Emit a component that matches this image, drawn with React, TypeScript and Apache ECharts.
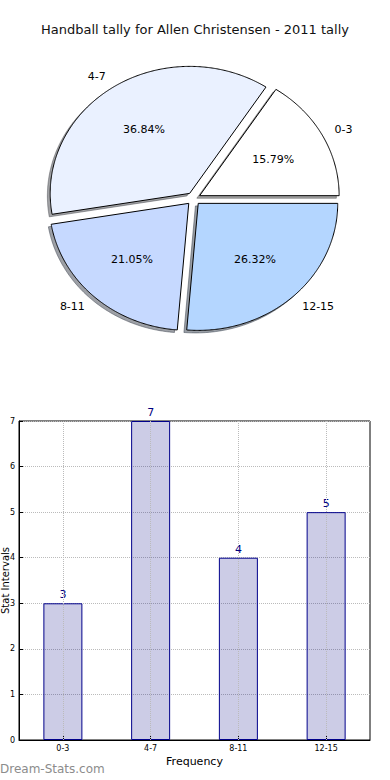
import React, { useEffect, useRef } from "react";
import * as echarts from "echarts";

const TITLE = "Handball tally for Allen Christensen - 2011 tally";
const categories = ["0-3", "4-7", "8-11", "12-15"];
const tally = [3, 7, 4, 5];
const sliceColors = ["#ffffff", "#eaf1ff", "#c6d9ff", "#b4d6ff"];
const yTicks = [0, 1, 2, 3, 4, 5, 6, 7];

const FONT = "DejaVu Sans";

// pie geometry (matplotlib-like, non-equal aspect → ellipse)
const PIE_CX = 193.5;
const PIE_CY = 198.7;
const PIE_RX = 139.5;
const PIE_RY = 127;
const EXPLODE = 0.05;
const LABEL_DIST = 1.1;
const PCT_DIST = 0.6;
const SHADOW_DX = -0.02;
const SHADOW_DY = -0.02;

function shadowColor(hex: string) {
  const r = parseInt(hex.slice(1, 3), 16);
  const g = parseInt(hex.slice(3, 5), 16);
  const b = parseInt(hex.slice(5, 7), 16);
  return `rgba(${Math.round(r * 0.3)},${Math.round(g * 0.3)},${Math.round(b * 0.3)},0.5)`;
}

function sliceGeom(i: number) {
  const total = tally.reduce((a, b) => a + b, 0);
  let before = 0;
  for (let k = 0; k < i; k++) before += tally[k];
  const a0 = (before / total) * Math.PI * 2;
  const a1 = ((before + tally[i]) / total) * Math.PI * 2;
  const mid = (a0 + a1) / 2;
  const ex = PIE_CX + EXPLODE * PIE_RX * Math.cos(mid);
  const ey = PIE_CY - EXPLODE * PIE_RY * Math.sin(mid);
  return { a0, a1, mid, ex, ey, total };
}

function slicePoints(ex: number, ey: number, a0: number, a1: number) {
  const n = Math.max(8, Math.ceil(((a1 - a0) * 180) / Math.PI / 0.5));
  const pts: number[][] = [[ex, ey]];
  for (let k = 0; k <= n; k++) {
    const t = a0 + ((a1 - a0) * k) / n;
    pts.push([ex + PIE_RX * Math.cos(t), ey - PIE_RY * Math.sin(t)]);
  }
  return pts;
}

export default function App() {
  const ref = useRef<HTMLDivElement>(null);
  useEffect(() => {
    if (!ref.current) return;
    const chart = echarts.init(ref.current, undefined, { renderer: "svg" });

    const pieData = categories.map((c, i) => ({ name: c, value: tally[i] }));

    chart.setOption({
      animation: false,
      backgroundColor: "#ffffff",
      textStyle: { fontFamily: FONT },
      title: {
        text: TITLE,
        left: "center",
        top: 18,
        textStyle: { fontFamily: FONT, fontSize: 13, fontWeight: "normal", color: "#111" },
      },
      grid: {
        left: 19,
        right: 20,
        top: 421,
        height: 319,
        show: true,
        borderColor: "#000",
        borderWidth: 1,
        backgroundColor: "transparent",
        outerBoundsMode: "none",
        containLabel: false,
      },
      xAxis: {
        type: "category",
        data: categories,
        name: "Frequency",
        nameLocation: "middle",
        nameGap: 16,
        nameMoveOverlap: false,
        nameTextStyle: { fontFamily: FONT, fontSize: 11, color: "#000" },
        axisLine: { show: true, lineStyle: { color: "#000" } },
        axisTick: { show: true, inside: true, alignWithLabel: true, length: 4, lineStyle: { color: "#000" } },
        axisLabel: { fontFamily: FONT, fontSize: 8, color: "#000", margin: 4 },
        splitLine: { show: false },
      },
      yAxis: {
        type: "value",
        min: 0,
        max: 7,
        interval: 1,
        name: "Stat Intervals",
        nameLocation: "middle",
        nameGap: 9,
        nameMoveOverlap: false,
        nameTextStyle: { fontFamily: FONT, fontSize: 10, color: "#000" },
        axisLine: { show: true, lineStyle: { color: "#000" } },
        axisTick: { show: true, inside: true, length: 4, lineStyle: { color: "#000" } },
        axisLabel: {
          fontFamily: FONT,
          fontSize: 8,
          color: "#000",
          margin: 4,
          formatter: (v: number) => (yTicks.includes(v) ? String(v) : ""),
        },
        splitLine: { show: true, lineStyle: { type: "dotted", color: "#bbbbbb", width: 1 } },
      },
      series: [
        {
          type: "custom",
          name: "pie-shadow",
          coordinateSystem: "none",
          silent: true,
          z: 1,
          data: pieData,
          renderItem: (params: any) => {
            const i = params.dataIndex;
            const g = sliceGeom(i);
            const sx = g.ex + SHADOW_DX * PIE_RX;
            const sy = g.ey - SHADOW_DY * PIE_RY;
            const c = shadowColor(sliceColors[i]);
            return {
              type: "polygon",
              shape: { points: slicePoints(sx, sy, g.a0, g.a1) },
              style: { fill: c, stroke: c, lineWidth: 1 },
            };
          },
        },
        {
          type: "custom",
          name: "pie",
          coordinateSystem: "none",
          silent: true,
          z: 2,
          data: pieData,
          renderItem: (params: any) => {
            const i = params.dataIndex;
            const g = sliceGeom(i);
            const cosm = Math.cos(g.mid);
            const sinm = Math.sin(g.mid);
            const lx = g.ex + LABEL_DIST * PIE_RX * cosm;
            const ly = g.ey - LABEL_DIST * PIE_RY * sinm;
            const px = g.ex + PCT_DIST * PIE_RX * cosm;
            const py = g.ey - PCT_DIST * PIE_RY * sinm;
            const pct = ((tally[i] / g.total) * 100).toFixed(2) + "%";
            return {
              type: "group",
              children: [
                {
                  type: "polygon",
                  shape: { points: slicePoints(g.ex, g.ey, g.a0, g.a1) },
                  style: { fill: sliceColors[i], stroke: "#000", lineWidth: 1 },
                },
                {
                  type: "text",
                  style: {
                    text: pct,
                    x: px,
                    y: py,
                    align: "center",
                    verticalAlign: "middle",
                    fill: "#000",
                    fontFamily: FONT,
                    fontSize: 11,
                  },
                },
                {
                  type: "text",
                  style: {
                    text: categories[i],
                    x: lx,
                    y: ly,
                    align: lx > PIE_CX ? "left" : "right",
                    verticalAlign: "middle",
                    fill: "#000",
                    fontFamily: FONT,
                    fontSize: 11,
                  },
                },
              ],
            };
          },
        },
        {
          type: "bar",
          data: tally,
          barWidth: 39,
          silent: true,
          itemStyle: {
            color: "rgba(0,0,128,0.2)",
            borderColor: "#00008b",
            borderWidth: 1,
          },
          label: {
            show: true,
            position: "top",
            distance: 3,
            fontFamily: FONT,
            fontSize: 11,
            color: "#000080",
          },
          markLine: {
            silent: true,
            symbol: "none",
            label: { show: false },
            lineStyle: { type: "dotted", color: "#bbbbbb", width: 1 },
            data: categories.map((c) => ({ xAxis: c })),
          },
        },
      ],
      graphic: [
        {
          type: "text",
          left: 0,
          top: 763,
          style: {
            text: "Dream-Stats.com",
            fontFamily: FONT,
            fontSize: 12,
            fontWeight: "normal",
            fill: "#8c8c8c",
          },
        },
      ],
    });
    return () => chart.dispose();
  }, []);

  return (
    <div
      ref={ref}
      style={{ position: "fixed", left: 0, top: 0, width: 390, height: 780, background: "#fff" }}
    />
  );
}
